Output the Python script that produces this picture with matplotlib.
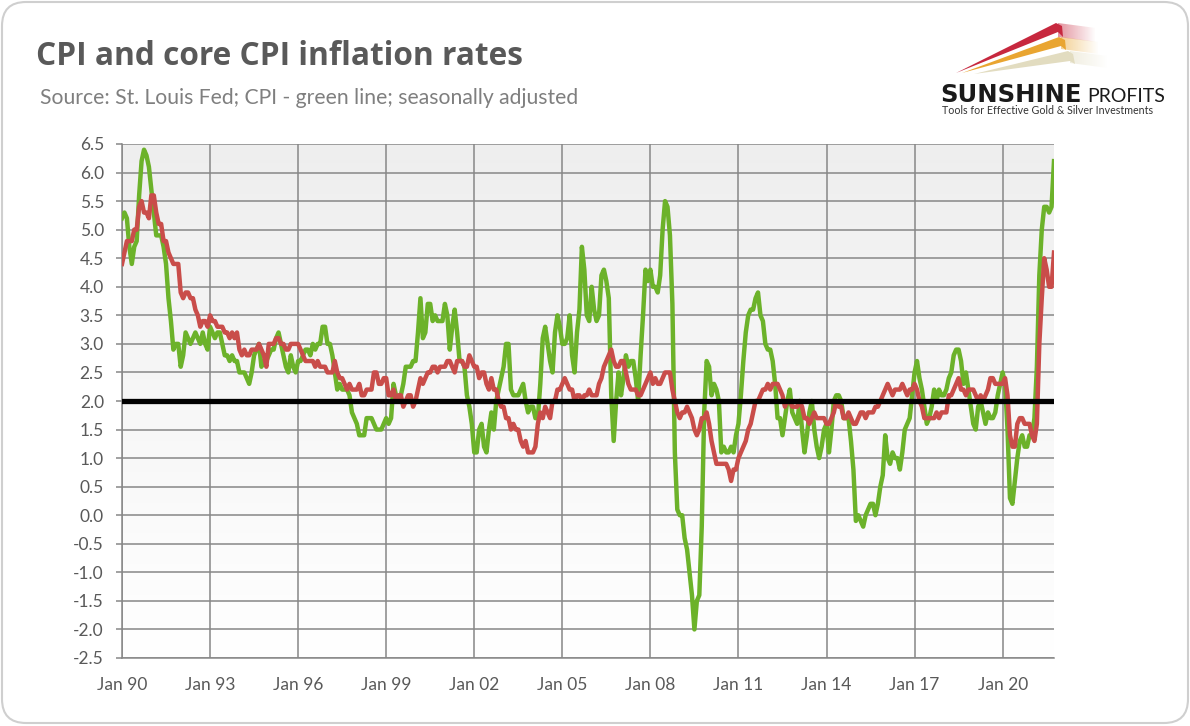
import numpy as np
import pandas as pd
import matplotlib
matplotlib.use('Agg')
import matplotlib.pyplot as plt
from matplotlib.patches import FancyBboxPatch, Polygon
from matplotlib.colors import to_rgb

plt.rcParams['font.family'] = ['Lato', 'DejaVu Sans']
plt.rcParams['axes.unicode_minus'] = False

# monthly y/y inflation, Jan 1990 - Oct 2021 (%)
cpi = [
    5.2, 5.3, 5.2, 4.7, 4.4, 4.7, 4.8, 5.6, 6.2, 6.4, 6.3, 6.1,   # 1990
    5.7, 5.3, 4.9, 4.9, 4.9, 4.7, 4.4, 3.8, 3.4, 2.9, 3.0, 3.0,   # 1991
    2.6, 2.8, 3.2, 3.1, 3.0, 3.1, 3.2, 3.1, 3.0, 3.2, 3.0, 2.9,   # 1992
    3.3, 3.2, 3.1, 3.2, 3.2, 3.0, 2.8, 2.8, 2.7, 2.8, 2.7, 2.7,   # 1993
    2.5, 2.5, 2.5, 2.4, 2.3, 2.5, 2.8, 2.9, 3.0, 2.6, 2.7, 2.7,   # 1994
    2.8, 2.9, 2.9, 3.1, 3.2, 3.0, 2.8, 2.6, 2.5, 2.8, 2.6, 2.5,   # 1995
    2.7, 2.7, 2.8, 2.9, 2.9, 2.8, 3.0, 2.9, 3.0, 3.0, 3.3, 3.3,   # 1996
    3.0, 3.0, 2.8, 2.5, 2.2, 2.3, 2.2, 2.2, 2.2, 2.1, 1.8, 1.7,   # 1997
    1.6, 1.4, 1.4, 1.4, 1.7, 1.7, 1.7, 1.6, 1.5, 1.5, 1.5, 1.6,   # 1998
    1.7, 1.6, 1.7, 2.3, 2.1, 2.0, 2.1, 2.3, 2.6, 2.6, 2.6, 2.7,   # 1999
    2.7, 3.2, 3.8, 3.1, 3.2, 3.7, 3.7, 3.4, 3.5, 3.4, 3.4, 3.4,   # 2000
    3.7, 3.5, 2.9, 3.3, 3.6, 3.2, 2.7, 2.7, 2.6, 2.1, 1.9, 1.6,   # 2001
    1.1, 1.1, 1.5, 1.6, 1.2, 1.1, 1.5, 1.8, 1.5, 2.0, 2.2, 2.4,   # 2002
    2.6, 3.0, 3.0, 2.2, 2.1, 2.1, 2.1, 2.2, 2.3, 2.0, 1.8, 1.9,   # 2003
    1.9, 1.7, 1.7, 2.3, 3.1, 3.3, 3.0, 2.7, 2.5, 3.2, 3.5, 3.3,   # 2004
    3.0, 3.0, 3.1, 3.5, 2.8, 2.5, 3.2, 3.6, 4.7, 4.3, 3.5, 3.4,   # 2005
    4.0, 3.6, 3.4, 3.5, 4.2, 4.3, 4.1, 3.8, 2.1, 1.3, 2.0, 2.5,   # 2006
    2.1, 2.4, 2.8, 2.6, 2.7, 2.7, 2.4, 2.0, 2.8, 3.5, 4.3, 4.1,   # 2007
    4.3, 4.0, 4.0, 3.9, 4.2, 5.0, 5.5, 5.4, 4.9, 3.7, 1.1, 0.1,   # 2008
    0.0, 0.0, -0.4, -0.6, -1.0, -1.4, -2.0, -1.5, -1.4, -0.2, 1.8, 2.7,  # 2009
    2.6, 2.1, 2.3, 2.2, 2.0, 1.1, 1.2, 1.1, 1.1, 1.2, 1.1, 1.4,   # 2010
    1.6, 2.1, 2.7, 3.2, 3.5, 3.6, 3.6, 3.8, 3.9, 3.5, 3.4, 3.0,   # 2011
    2.9, 2.9, 2.7, 2.3, 1.7, 1.7, 1.4, 1.7, 2.0, 2.2, 1.8, 1.7,   # 2012
    1.6, 2.0, 1.5, 1.1, 1.4, 1.8, 2.0, 1.5, 1.2, 1.0, 1.2, 1.5,   # 2013
    1.6, 1.1, 1.5, 2.0, 2.1, 2.1, 2.0, 1.7, 1.7, 1.7, 1.3, 0.8,   # 2014
    -0.1, 0.0, -0.1, -0.2, 0.0, 0.1, 0.2, 0.2, 0.0, 0.2, 0.5, 0.7,  # 2015
    1.4, 1.0, 0.9, 1.1, 1.0, 1.0, 0.8, 1.1, 1.5, 1.6, 1.7, 2.1,   # 2016
    2.5, 2.7, 2.4, 2.2, 1.9, 1.6, 1.7, 1.9, 2.2, 2.0, 2.2, 2.1,   # 2017
    2.1, 2.2, 2.4, 2.5, 2.8, 2.9, 2.9, 2.7, 2.3, 2.5, 2.2, 1.9,   # 2018
    1.6, 1.5, 1.9, 2.0, 1.8, 1.6, 1.8, 1.7, 1.7, 1.8, 2.1, 2.3,   # 2019
    2.5, 2.3, 1.5, 0.3, 0.2, 0.6, 1.0, 1.3, 1.4, 1.2, 1.2, 1.4,   # 2020
    1.4, 1.7, 2.6, 4.2, 5.0, 5.4, 5.4, 5.3, 5.4, 6.2,             # 2021
]

core = [
    4.4, 4.6, 4.8, 4.8, 4.8, 5.0, 5.0, 5.4, 5.5, 5.3, 5.3, 5.2,   # 1990
    5.6, 5.6, 5.3, 5.1, 5.1, 4.8, 4.8, 4.6, 4.5, 4.4, 4.4, 4.4,   # 1991
    3.9, 3.8, 3.9, 3.9, 3.8, 3.8, 3.6, 3.5, 3.3, 3.4, 3.4, 3.3,   # 1992
    3.5, 3.4, 3.4, 3.3, 3.3, 3.3, 3.2, 3.2, 3.1, 3.2, 3.1, 3.2,   # 1993
    2.9, 2.8, 2.9, 2.8, 2.8, 2.9, 2.9, 2.9, 3.0, 2.9, 2.8, 2.6,   # 1994
    3.0, 3.0, 3.0, 3.1, 3.1, 3.0, 3.0, 2.9, 2.9, 3.0, 3.0, 3.0,   # 1995
    3.0, 2.9, 2.8, 2.7, 2.7, 2.7, 2.7, 2.6, 2.7, 2.6, 2.6, 2.6,   # 1996
    2.5, 2.5, 2.5, 2.7, 2.5, 2.4, 2.4, 2.3, 2.2, 2.3, 2.2, 2.2,   # 1997
    2.2, 2.3, 2.1, 2.1, 2.2, 2.2, 2.2, 2.5, 2.5, 2.3, 2.3, 2.4,   # 1998
    2.4, 2.1, 2.1, 2.2, 2.0, 2.1, 2.1, 1.9, 2.0, 2.1, 2.1, 1.9,   # 1999
    2.0, 2.2, 2.4, 2.3, 2.4, 2.5, 2.5, 2.6, 2.6, 2.5, 2.6, 2.6,   # 2000
    2.6, 2.7, 2.7, 2.6, 2.5, 2.7, 2.7, 2.7, 2.6, 2.6, 2.8, 2.7,   # 2001
    2.6, 2.6, 2.4, 2.5, 2.5, 2.3, 2.2, 2.4, 2.2, 2.2, 2.0, 1.9,   # 2002
    1.9, 1.7, 1.7, 1.5, 1.6, 1.5, 1.5, 1.3, 1.2, 1.3, 1.1, 1.1,   # 2003
    1.1, 1.2, 1.6, 1.8, 1.7, 1.9, 1.8, 1.7, 2.0, 2.0, 2.2, 2.2,   # 2004
    2.3, 2.4, 2.3, 2.2, 2.2, 2.0, 2.1, 2.1, 2.0, 2.1, 2.1, 2.2,   # 2005
    2.1, 2.1, 2.1, 2.3, 2.4, 2.6, 2.7, 2.8, 2.9, 2.7, 2.6, 2.6,   # 2006
    2.7, 2.7, 2.5, 2.3, 2.2, 2.2, 2.2, 2.1, 2.1, 2.2, 2.3, 2.4,   # 2007
    2.5, 2.3, 2.4, 2.3, 2.3, 2.4, 2.5, 2.5, 2.5, 2.2, 2.0, 1.8,   # 2008
    1.7, 1.8, 1.8, 1.9, 1.8, 1.7, 1.5, 1.4, 1.5, 1.7, 1.7, 1.8,   # 2009
    1.6, 1.3, 1.1, 0.9, 0.9, 0.9, 0.9, 0.9, 0.8, 0.6, 0.8, 0.8,   # 2010
    1.0, 1.1, 1.2, 1.3, 1.5, 1.6, 1.8, 2.0, 2.0, 2.1, 2.2, 2.2,   # 2011
    2.3, 2.2, 2.3, 2.3, 2.3, 2.2, 2.1, 1.9, 2.0, 2.0, 1.9, 1.9,   # 2012
    1.9, 2.0, 1.9, 1.7, 1.7, 1.6, 1.7, 1.8, 1.7, 1.7, 1.7, 1.7,   # 2013
    1.6, 1.6, 1.7, 1.8, 2.0, 1.9, 1.9, 1.7, 1.7, 1.8, 1.7, 1.6,   # 2014
    1.6, 1.7, 1.8, 1.8, 1.7, 1.8, 1.8, 1.8, 1.9, 1.9, 2.0, 2.1,   # 2015
    2.2, 2.3, 2.2, 2.1, 2.2, 2.2, 2.2, 2.3, 2.2, 2.1, 2.2, 2.2,   # 2016
    2.3, 2.2, 2.0, 1.9, 1.7, 1.7, 1.7, 1.7, 1.7, 1.8, 1.7, 1.8,   # 2017
    1.8, 1.8, 2.1, 2.1, 2.2, 2.3, 2.4, 2.2, 2.2, 2.1, 2.2, 2.2,   # 2018
    2.2, 2.1, 2.0, 2.1, 2.0, 2.1, 2.2, 2.4, 2.4, 2.3, 2.3, 2.3,   # 2019
    2.3, 2.4, 2.1, 1.4, 1.2, 1.2, 1.6, 1.7, 1.7, 1.6, 1.6, 1.6,   # 2020
    1.4, 1.3, 1.6, 3.0, 3.8, 4.5, 4.3, 4.0, 4.0, 4.6,             # 2021
]

target = 2.0
dates = pd.date_range('1990-01-01', periods=len(cpi), freq='MS')
t = np.arange(len(cpi))

W, H = 1190, 726
fig = plt.figure(figsize=(W / 100, H / 100), dpi=100)

# background layer in pixel coords: frame, titles, logo
bg = fig.add_axes([0, 0, 1, 1], zorder=0)
bg.set_xlim(0, W)
bg.set_ylim(H, 0)
bg.axis('off')
bg.add_patch(FancyBboxPatch((2, 2), W - 4, H - 5, boxstyle='round,pad=0,rounding_size=24',
                            facecolor='white', edgecolor='#cfcfcf', linewidth=1.5, zorder=1))
bg.text(36, 65, 'CPI and core CPI inflation rates', fontsize=22.8, fontweight='bold',
        color='#595959', family=['Open Sans', 'DejaVu Sans'])
bg.text(40, 104, 'Source: St. Louis Fed; CPI - green line; seasonally adjusted', fontsize=15.2, color='#7f7f7f')

# logo: three streaks with fading tails
streaks = [
    ([(956, 73), (1056, 23), (1062, 26), (1063, 37), (1058, 32)], (1058, 23, 14), '#c7283e'),
    ([(962, 73), (1059, 37), (1065, 40), (1066, 50), (1061, 46)], (1061, 37, 12), '#e9a531'),
    ([(974, 74), (1068, 51), (1073, 54), (1075, 64), (1070, 61)], (1070, 51, 12), '#e2dcc0'),
]
for pts, (x0, y0, h), c in streaks:
    tail = Polygon([(x0, y0), (x0 + 38, y0 + 5), (x0 + 38, y0 + h + 5), (x0, y0 + h)],
                   facecolor='none', lw=0, transform=bg.transData)
    img = np.zeros((2, 64, 4))
    img[..., :3] = to_rgb(c)
    img[..., 3] = np.linspace(0.5, 0.0, 64)
    im = bg.imshow(img, extent=[x0, x0 + 38, y0 + h + 5, y0], aspect='auto',
                   interpolation='bilinear', zorder=2)
    im.set_clip_path(tail)
    bg.add_patch(Polygon(pts, facecolor=c, lw=0, zorder=3))
bg.set_xlim(0, W)
bg.set_ylim(H, 0)
bg.text(940, 102, 'SUNSHINE', fontsize=17.5, fontweight='bold', color='#1a1a1a', family=['DejaVu Sans'])
bg.text(1087, 102, 'PROFITS', fontsize=14, color='#1a1a1a')
bg.text(942, 114, 'Tools for Effective Gold & Silver Investments', fontsize=7.7, color='#333333')

# chart
ax = fig.add_axes([122 / W, (H - 658) / H, (1054 - 122) / W, (658 - 144) / H], zorder=1)
ax.patch.set_alpha(0)
grad = np.linspace(0.935, 1.0, 256).reshape(-1, 1)
ax.imshow(np.dstack([grad, grad, grad]), extent=[0, len(cpi) - 1, -2.5, 6.5], aspect='auto',
          origin='upper', zorder=0, interpolation='bilinear')

ax.plot(t, cpi, color='#6cb22a', linewidth=3.2, solid_joinstyle='round', zorder=3)
ax.plot(t, core, color='#c94d4a', linewidth=3.2, solid_joinstyle='round', zorder=4)
ax.axhline(target, color='black', linewidth=3.8, zorder=5)

ax.set_xlim(0, len(cpi) - 1)
ax.set_ylim(-2.5, 6.5)
yt = np.arange(-2.5, 6.51, 0.5)
ax.set_yticks(yt)
ax.set_yticklabels(['%.1f' % v for v in yt])
xt = t[::36]
ax.set_xticks(xt)
ax.set_xticklabels([d.strftime('Jan %y') for d in dates[::36]])
ax.grid(True, color='#878787', linewidth=1.1, zorder=1)
ax.set_axisbelow(True)
for s in ['top', 'right']:
    ax.spines[s].set_visible(False)
for s in ['left', 'bottom']:
    ax.spines[s].set_color('#878787')
    ax.spines[s].set_linewidth(1.1)
ax.tick_params(axis='y', length=4, width=1.1, color='#878787', pad=9, labelsize=12.5, labelcolor='#595959')
ax.tick_params(axis='x', length=0, pad=14, labelsize=12.5, labelcolor='#595959')

fig.savefig('out.png', dpi=100)
